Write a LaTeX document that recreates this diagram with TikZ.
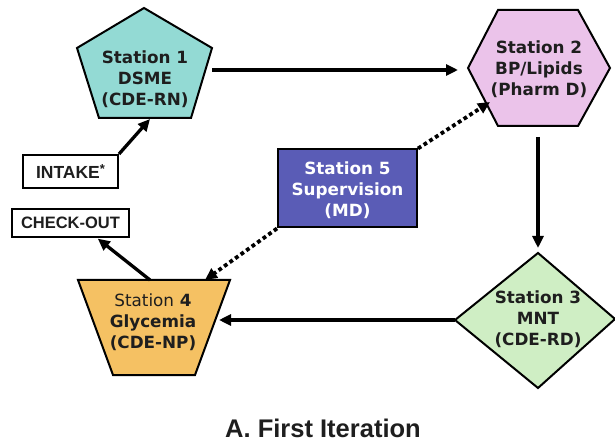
\documentclass[tikz,border=0pt]{standalone}
\usepackage{fontspec}
\setmainfont{DejaVu Sans}
\newfontfamily\arialfont{Liberation Sans}
\usetikzlibrary{arrows.meta}
\definecolor{cyanfill}{HTML}{93DAD4}
\definecolor{pinkfill}{HTML}{EBC3EA}
\definecolor{greenfill}{HTML}{CFEEC4}
\definecolor{orangefill}{HTML}{F5C163}
\definecolor{bluefill}{HTML}{5A5CB6}
\definecolor{textc}{HTML}{1E1E1E}
\begin{document}
\begin{tikzpicture}[x=1pt,y=-1pt,
  shapeline/.style={draw=black,line width=2pt},
  arr/.style={line width=3.3pt,-{Triangle[length=12pt,width=11pt]}},
  dotarr/.style={line width=3.8pt,dash pattern=on 3.8pt off 3pt,-{Triangle[length=12pt,width=11pt]}},
  stationtext/.style={font=\bfseries\fontsize{16.8}{21}\selectfont,align=center,text=textc},
  smallbox/.style={draw=black,line width=2pt,fill=white,inner sep=0pt,text=textc,font=\arialfont\bfseries\fontsize{16.5}{18}\selectfont}
]
\useasboundingbox (0,0) rectangle (615,443);

% Station 1 pentagon
\coordinate (p1t) at (144,8);
\coordinate (p1r) at (212,48);
\coordinate (p1br) at (191,118);
\coordinate (p1bl) at (99,118);
\coordinate (p1l) at (77,48);
\coordinate (p1out) at (212,70);
\coordinate (p1in) at (150,119);
\draw[shapeline,fill=cyanfill] (p1t) -- (p1r) -- (p1br) -- (p1bl) -- (p1l) -- cycle;
\node[stationtext] (s1) at (145,79) {Station 1\\DSME\\(CDE-RN)};

% Station 2 hexagon
\coordinate (h2tl) at (498,10);
\coordinate (h2tr) at (578,10);
\coordinate (h2r) at (610,68);
\coordinate (h2br) at (578,126);
\coordinate (h2bl) at (498,126);
\coordinate (h2l) at (468,68);
\coordinate (h2in) at (468,70);
\coordinate (h2dot) at (490,102);
\coordinate (h2out) at (538,126);
\draw[shapeline,fill=pinkfill] (h2tl) -- (h2tr) -- (h2r) -- (h2br) -- (h2bl) -- (h2l) -- cycle;
\node[stationtext] (s2) at (539,69) {Station 2\\BP/Lipids\\(Pharm D)};

% Station 3 diamond
\coordinate (d3t) at (538,253);
\coordinate (d3r) at (615,319);
\coordinate (d3b) at (538,388);
\coordinate (d3l) at (455,320);
\draw[shapeline,fill=greenfill] (d3t) -- (d3r) -- (d3b) -- (d3l) -- cycle;
\node[stationtext] (s3) at (538,319) {Station 3\\MNT\\(CDE-RD)};

% Station 4 trapezoid
\coordinate (t4tl) at (78,280);
\coordinate (t4tr) at (230,280);
\coordinate (t4br) at (195,375);
\coordinate (t4bl) at (113,375);
\coordinate (t4in) at (217,320);
\coordinate (t4out) at (150,280);
\coordinate (t4dot) at (205,280);
\draw[shapeline,fill=orangefill] (t4tl) -- (t4tr) -- (t4br) -- (t4bl) -- cycle;
\node[stationtext] (s4) at (153,322) {{\mdseries Station} 4\\Glycemia\\(CDE-NP)};

% Station 5 rectangle
\node[draw=black,line width=2pt,fill=bluefill,minimum width=139pt,minimum height=78pt,inner sep=0pt] (s5box) at (347.5,188.5) {};
\node[stationtext,text=white] (s5) at (347.5,190) {Station 5\\Supervision\\(MD)};

% Small boxes
\node[smallbox,minimum width=95pt,minimum height=33pt,font=\arialfont\bfseries\fontsize{17.5}{18}\selectfont] (intake) at (70.5,171.5) {INTAKE\raisebox{0.55ex}{\fontsize{13}{13}\selectfont*}};
\node[smallbox,minimum width=117pt,minimum height=28pt] (checkout) at (70.5,223) {CHECK-OUT};

% Connectors
\draw[arr,shorten >=10pt] (p1out) -- (h2in);
\draw[arr,shorten <=11pt,shorten >=5pt] (h2out) -- (d3t);
\draw[arr,shorten >=2pt] (d3l) -- (t4in);
\draw[arr] (intake.north east) -- (p1in);
\draw[arr,shorten >=1pt] (t4out) -- (checkout.south -| 97,0);
\draw[dotarr] (s5box.north east) -- (h2dot);
\draw[dotarr] (s5box.south west) -- (t4dot);

% Title
\node[font=\arialfont\bfseries\fontsize{25.5}{30}\selectfont,text=textc] (title) at (323,428) {A. First Iteration};
\end{tikzpicture}
\end{document}
